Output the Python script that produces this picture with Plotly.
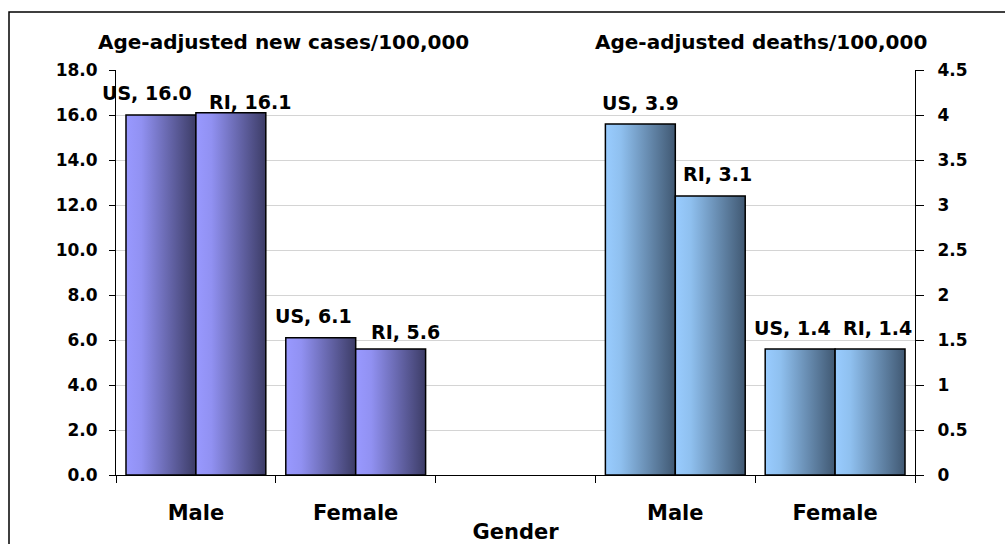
import plotly.graph_objects as go

# data
groups = ["Male", "Female", "Male", "Female"]
cases_us = [16.0, 6.1]
cases_ri = [16.1, 5.6]
deaths_us = [3.9, 1.4]
deaths_ri = [3.1, 1.4]
left_ticks = [0, 2, 4, 6, 8, 10, 12, 14, 16, 18]
right_ticks = [0, 0.5, 1, 1.5, 2, 2.5, 3, 3.5, 4, 4.5]

# label nudges in px (US, RI) for each group, as placed in the original
label_dx = [(-14, 19), (-7, 15), (0, 7), (-8, 7)]
label_dy = [(22, 11), (22, 17), (21, 22), (21, 21)]

FONT = "DejaVu Sans"
cases_scale = [[0, "#9999ff"], [0.22, "#9191f2"], [1, "#3c3c66"]]
deaths_scale = [[0, "#99ccff"], [0.22, "#8fc0ef"], [1, "#405872"]]

centers = [0.5, 1.5, 3.5, 4.5]   # category slots: Male, Female, (gap), Male, Female
bw = 0.4375

fig = go.Figure()
annots = []

series = [
    (cases_us, cases_ri, "y", cases_scale, 0),
    (deaths_us, deaths_ri, "y2", deaths_scale, 2),
]
for us, ri, yax, scale, off in series:
    for j in range(2):
        c = centers[off + j]
        for k, (name, v) in enumerate([("US", us[j]), ("RI", ri[j])]):
            x0 = c - bw if k == 0 else c
            x1 = x0 + bw
            fig.add_trace(go.Scatter(
                x=[x0, x0, x1, x1, x0], y=[0, v, v, 0, 0],
                mode="lines", fill="toself", yaxis=yax,
                line=dict(color="black", width=1.5),
                fillgradient=dict(type="horizontal", colorscale=scale),
                name=name, showlegend=False, hoverinfo="skip"))
            annots.append(dict(
                x=(x0 + x1) / 2, y=v, xref="x", yref=yax,
                text=f"{name}, {v:.1f}", showarrow=False,
                yanchor="middle", xshift=label_dx[off + j][k], yshift=label_dy[off + j][k],
                font=dict(family=FONT, size=19, color="black", weight="bold")))

# panel headings
for txt, px in [("Age-adjusted new cases/100,000", 283), ("Age-adjusted deaths/100,000", 761)]:
    annots.append(dict(
        x=(px - 116) / 799, y=(475 - 42) / 405, xref="paper", yref="paper",
        text=txt, showarrow=False, xanchor="center", yanchor="middle",
        font=dict(family=FONT, size=20, color="black", weight="bold")))

tick_font = dict(family=FONT, size=17, color="black", weight="bold")

fig.update_layout(
    width=1005, height=544,
    margin=dict(l=116, r=90, t=70, b=69, autoexpand=False),
    paper_bgcolor="white", plot_bgcolor="white",
    showlegend=False,
    annotations=annots,
    xaxis=dict(
        range=[0, 5], tickmode="array", tickvals=centers, ticktext=groups,
        ticks="", ticklabelstandoff=19, automargin=False,
        tickfont=dict(family=FONT, size=21, color="black", weight="bold"),
        showline=True, linecolor="black", linewidth=1, showgrid=False, zeroline=False,
        minor=dict(tickmode="linear", tick0=0, dtick=1, ticks="outside", ticklen=7,
                   tickcolor="black", tickwidth=1),
        title=dict(text="Gender", standoff=0,
                   font=dict(family=FONT, size=21, color="black", weight="bold")),
    ),
    yaxis=dict(
        range=[0, 18], tickmode="array", tickvals=left_ticks, tickformat=".1f",
        ticks="outside", ticklen=6, tickcolor="black", ticklabelstandoff=8,
        tickfont=tick_font, automargin=False,
        showline=True, linecolor="black", linewidth=1,
        showgrid=True, gridcolor="#d4d4d4", gridwidth=1, zeroline=False,
    ),
    yaxis2=dict(
        range=[0, 4.5], tickmode="array", tickvals=right_ticks,
        overlaying="y", side="right", anchor="x",
        ticks="outside", ticklen=8, tickcolor="black", ticklabelstandoff=10,
        tickfont=tick_font, automargin=False,
        showline=True, linecolor="black", linewidth=1,
        showgrid=False, zeroline=False,
    ),
    shapes=[dict(type="rect", xref="paper", yref="paper",
                 x0=(9 - 116) / 799, x1=(1012 - 116) / 799,
                 y0=(475 - 552) / 405, y1=(475 - 12) / 405,
                 line=dict(color="black", width=1.5), layer="below")],
)

# page body has a default 8px margin; drop it so the figure sits at the corner
fig.write_html("out.html", config={"displayModeBar": False},
               post_script="document.body.style.margin='0px';")
